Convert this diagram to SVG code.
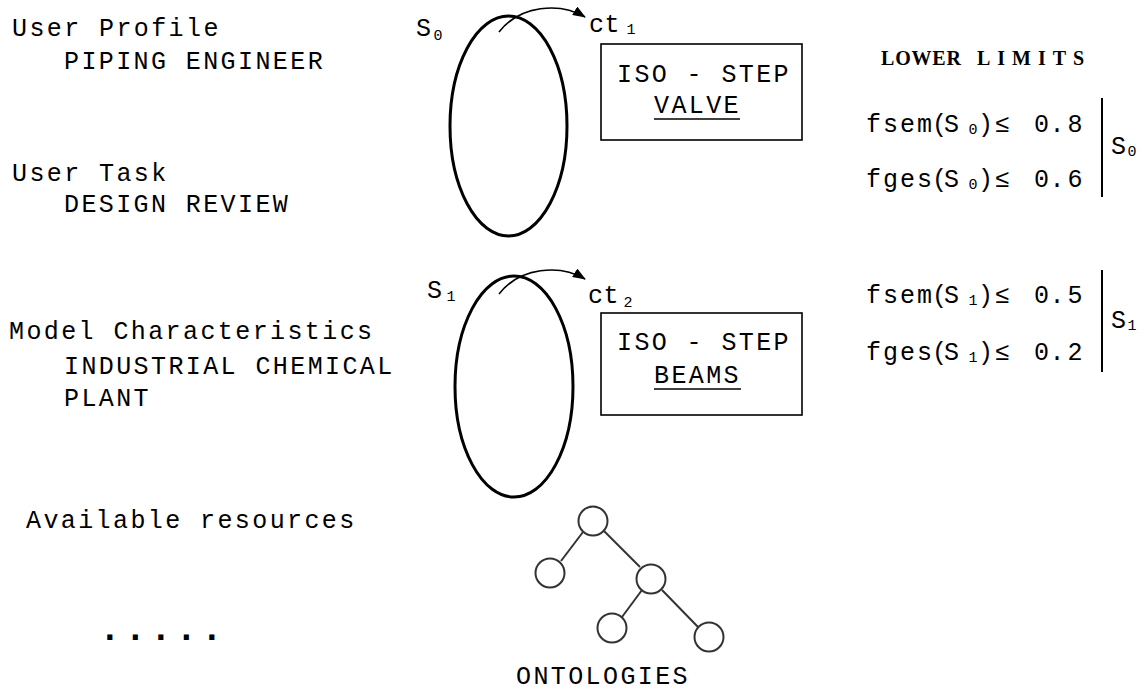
<svg xmlns="http://www.w3.org/2000/svg" width="1146" height="691" viewBox="0 0 1146 691">
<style>
.t{font-family:"Liberation Mono","DejaVu Sans Mono",monospace;font-size:25px;letter-spacing:2.4px;fill:#000}
.m{font-family:"Liberation Mono","DejaVu Sans Mono",monospace;font-size:25px;fill:#000}
.sub{font-family:"Liberation Mono","DejaVu Sans Mono",monospace;font-size:15px;fill:#000}
.ell{fill:none;stroke:#000;stroke-width:3}
.box{fill:#fff;stroke:#000;stroke-width:1.6}
.arc{fill:none;stroke:#000;stroke-width:1.6}
.tn{fill:#fff;stroke:#333;stroke-width:2}
.te{stroke:#333;stroke-width:2}
.bar{stroke:#000;stroke-width:2}
.hd{font-family:"Liberation Serif","Times New Roman",serif;font-weight:bold;font-size:20px;fill:#000}
</style>
<defs>
<marker id="ah" markerUnits="userSpaceOnUse" markerWidth="13" markerHeight="10" refX="12" refY="5" orient="auto">
<path d="M0,0 L13,5 L0,10 z" fill="#000"/>
</marker>
</defs>
<rect width="1146" height="691" fill="#fff"/>

<g id="left-labels">
<text class="t" x="12" y="36">User Profile</text>
<text class="t" x="64" y="69">PIPING ENGINEER</text>
<text class="t" x="12" y="181">User Task</text>
<text class="t" x="64" y="212">DESIGN REVIEW</text>
<text class="t" x="9" y="339">Model Characteristics</text>
<text class="t" x="64" y="374">INDUSTRIAL CHEMICAL</text>
<text class="t" x="64" y="406">PLANT</text>
<text class="t" x="26" y="528">Available resources</text>
<text class="m" x="99" y="640" style="font-size:36px;font-weight:bold;letter-spacing:3.9px">.....</text>
</g>

<g id="s0">
<ellipse class="ell" cx="508.5" cy="126" rx="58.5" ry="110"/>
<text class="m" x="416" y="36">S</text>
<text class="sub" x="433.5" y="40">0</text>
</g>

<g id="ct1">
<text class="m" x="589" y="32" style="letter-spacing:0.5px">ct</text>
<text class="sub" x="626.5" y="34">1</text>
</g>

<g id="box1">
<rect class="box" x="601" y="44" width="201" height="96"/>
<text class="t" x="617" y="82">ISO - STEP</text>
<text class="t" x="654" y="113">VALVE</text>
<line x1="654" y1="119" x2="740" y2="119" stroke="#000" stroke-width="1.6"/>
</g>

<g id="s1">
<ellipse class="ell" cx="514" cy="386.5" rx="59" ry="110.5"/>
<text class="m" x="427" y="298">S</text>
<text class="sub" x="446.5" y="301">1</text>
</g>

<g id="ct2">
<text class="m" x="588" y="303" style="letter-spacing:0.5px">ct</text>
<text class="sub" x="623.5" y="307">2</text>
</g>

<g id="box2">
<rect class="box" x="601" y="313" width="201" height="102"/>
<text class="t" x="617" y="350">ISO - STEP</text>
<text class="t" x="654" y="383">BEAMS</text>
<line x1="654" y1="389" x2="741" y2="389" stroke="#000" stroke-width="1.6"/>
</g>

<g id="lower-limits">
<text class="hd" y="65"><tspan x="881" style="letter-spacing:0.8px">LOWER</tspan><tspan x="977" style="letter-spacing:7px">LIMITS</tspan></text>
</g>

<g id="limits-s0">
<text class="m" y="132"><tspan x="866 883 900 917">fsem</tspan><tspan x="932 944">(S</tspan><tspan class="sub" x="968.5" y="134">0</tspan><tspan x="978 995" y="132">)≤</tspan><tspan x="1034 1049.5 1067.5">0.8</tspan></text>
<text class="m" y="187"><tspan x="866 883 900 917">fges</tspan><tspan x="932 944">(S</tspan><tspan class="sub" x="968.5" y="189">0</tspan><tspan x="978 995" y="187">)≤</tspan><tspan x="1034 1049.5 1067.5">0.6</tspan></text>
<line class="bar" x1="1102" y1="98" x2="1102" y2="197"/>
<text class="m" x="1111" y="154">S</text>
<text class="sub" x="1127.5" y="156">0</text>
</g>

<g id="limits-s1">
<text class="m" y="303"><tspan x="866 883 900 917">fsem</tspan><tspan x="932 944">(S</tspan><tspan class="sub" x="968.5" y="305">1</tspan><tspan x="978 995" y="303">)≤</tspan><tspan x="1034 1049.5 1067.5">0.5</tspan></text>
<text class="m" y="360"><tspan x="866 883 900 917">fges</tspan><tspan x="932 944">(S</tspan><tspan class="sub" x="968.5" y="362">1</tspan><tspan x="978 995" y="360">)≤</tspan><tspan x="1034 1049.5 1067.5">0.2</tspan></text>
<line class="bar" x1="1102" y1="270" x2="1102" y2="372"/>
<text class="m" x="1111" y="328">S</text>
<text class="sub" x="1127.5" y="330">1</text>
</g>

<g id="connectors">
<path class="arc" d="M499,32 C520,5 560,2 585,17" marker-end="url(#ah)"/>
<path class="arc" d="M499,294 C520,267 560,264 585,279" marker-end="url(#ah)"/>
<line class="te" x1="583" y1="532" x2="561" y2="561"/>
<line class="te" x1="604" y1="531" x2="640" y2="567"/>
<line class="te" x1="642" y1="590" x2="622" y2="617"/>
<line class="te" x1="662" y1="590" x2="698" y2="627"/>
</g>

<g id="ontologies">
<circle class="tn" cx="593" cy="521" r="14.5"/>
<circle class="tn" cx="550" cy="573" r="14.5"/>
<circle class="tn" cx="651" cy="579" r="14.5"/>
<circle class="tn" cx="612" cy="628" r="14.5"/>
<circle class="tn" cx="709" cy="637" r="14.5"/>
<text class="t" x="516" y="684">ONTOLOGIES</text>
</g>
</svg>
